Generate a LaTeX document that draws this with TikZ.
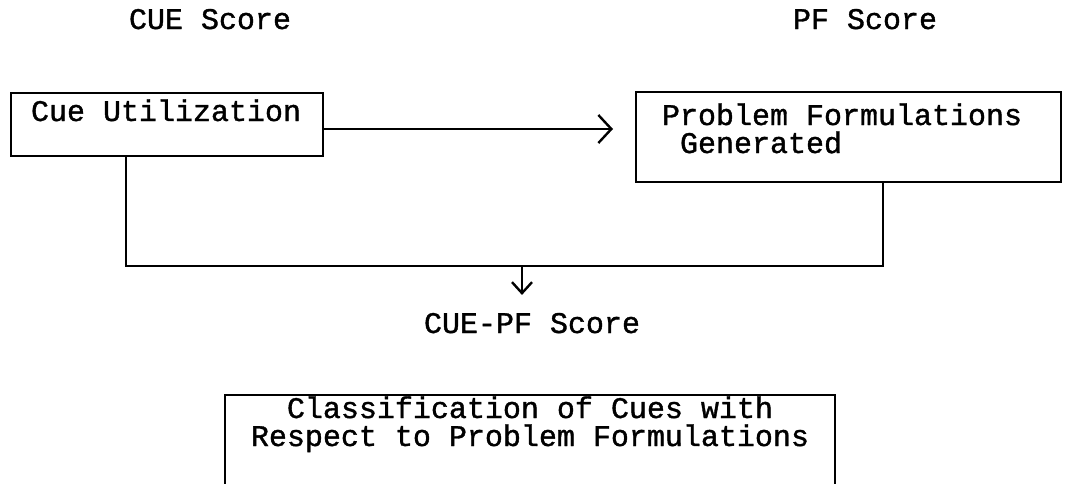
\documentclass[tikz,border=0pt]{standalone}
\usepackage{fontspec}
\setmonofont{Liberation Mono}[UprightFeatures={FakeBold=1.2}]
\usetikzlibrary{positioning,arrows.meta}

\begin{document}
\begin{tikzpicture}[x=1pt,y=-1pt,line width=2pt,
      tt/.style={font=\ttfamily\fontsize{30}{28}\selectfont},
      hdr/.style={tt,inner sep=0pt,anchor=base},
      box/.style={tt,draw,anchor=north west,align=flush left,inner ysep=0pt},
      flow/.style={-{Straight Barb[length=13pt,width=28pt,line width=2.4pt]}},
      flow2/.style={-{Straight Barb[length=11pt,width=20pt,line width=2.4pt]}}]

     \useasboundingbox (0,0) rectangle (1073,483);

     \node[hdr] (cuehdr) at (210,29) {CUE Score};
     \node[hdr] (pfhdr) at (865,29) {PF Score};

     \node[box,inner xsep=20pt,text width=272pt,text height=28pt,text depth=35pt]
        (cue) at (10,92) {Cue Utilization};
     \node[box,inner xsep=26pt,text width=373pt,text height=33pt,text depth=57pt]
        (pf) at (635,91) {Problem Formulations\\\phantom{x}Generated};

     \node[hdr] (cuepf) at (532,333) {CUE-PF Score};

     \node[tt,anchor=north,align=flush center,inner xsep=24pt,inner ysep=0pt,
        text width=560pt,text height=22pt,text depth=140pt,
        font=\ttfamily\fontsize{30}{28}\selectfont]
        (cls) at (530,395) {Classification of Cues with\\Respect to Problem Formulations};
     \draw (cls.south west) -- (cls.north west) -- (cls.north east) -- (cls.south east);

     \coordinate (a1) at ([yshift=-4.5pt]cue.east);
     \coordinate (cueleg) at ([xshift=-41pt]cue.south);
     \coordinate (pfleg) at ([xshift=34.5pt]pf.south);
     \coordinate (merge) at (522,266);

     \draw[flow,shorten >=22pt] (a1) -- (a1 -| pf.west);
     \draw (cueleg) |- (merge) -| (pfleg);
     \draw[flow2,shorten >=17pt] (merge) -- (merge |- cuepf.north);

    \end{tikzpicture}
\end{document}
